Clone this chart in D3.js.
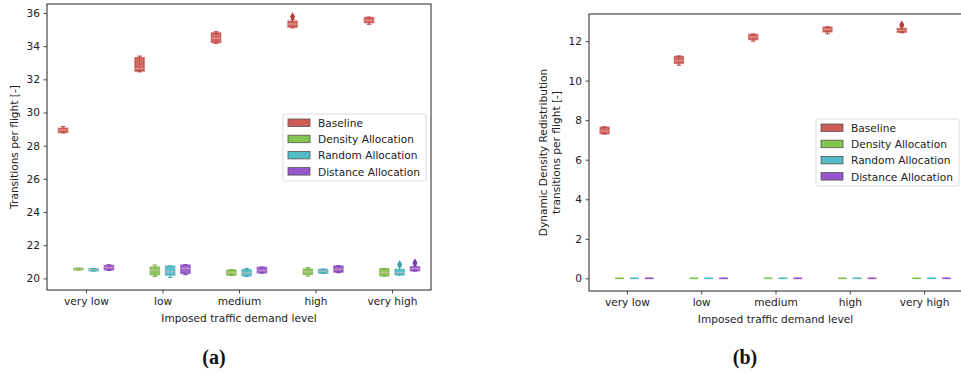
<!DOCTYPE html>
<html>
<head>
<meta charset="utf-8">
<script src="https://cdn.jsdelivr.net/npm/d3@7"></script>
<style>
  body { margin: 0; background: #fff; }
  svg { display: block; }
  text { font-family: "DejaVu Sans", sans-serif; fill: #222; }
  .caption { font-family: "Liberation Serif", serif; font-weight: bold; font-size: 20px; fill: #111; }
</style>
</head>
<body>
<svg id="chart" width="961" height="373"></svg>
<script>
const levels = ["very low", "low", "medium", "high", "very high"];
const series = ["Baseline", "Density Allocation", "Random Allocation", "Distance Allocation"];
const colors = ["#cd5c57", "#86c452", "#52bcc6", "#9656cc"];
const edgeColors = ["#b83a35", "#6aaa36", "#36a4ae", "#7a38b4"];

// [whisker low, q1, median, q3, whisker high] per level
const baselineA = [[28.77, 28.8, 28.95, 29.05, 29.15], [32.45, 32.5, 32.65, 33.3, 33.4], [34.17, 34.22, 34.47, 34.8, 34.87], [35.1, 35.15, 35.33, 35.5, 35.6], [35.32, 35.42, 35.54, 35.72, 35.75]];
const densityA = [[20.5, 20.52, 20.56, 20.6, 20.62], [20.12, 20.22, 20.5, 20.68, 20.8], [20.18, 20.2, 20.34, 20.5, 20.52], [20.14, 20.24, 20.4, 20.56, 20.64], [20.14, 20.16, 20.36, 20.58, 20.6]];
const randomA = [[20.44, 20.46, 20.52, 20.58, 20.6], [20.06, 20.2, 20.4, 20.73, 20.75], [20.12, 20.16, 20.34, 20.52, 20.6], [20.3, 20.32, 20.44, 20.54, 20.56], [20.2, 20.22, 20.36, 20.54, 20.7]];
const distanceA = [[20.48, 20.52, 20.65, 20.78, 20.82], [20.22, 20.3, 20.6, 20.8, 20.82], [20.32, 20.34, 20.48, 20.66, 20.68], [20.34, 20.38, 20.54, 20.74, 20.76], [20.44, 20.46, 20.6, 20.7, 20.8]];
// fliers: [series index, level index, value]
const fliersA = [[0, 3, 35.78], [2, 4, 20.85], [3, 4, 20.95]];

const baselineB = [[7.3, 7.32, 7.45, 7.64, 7.66], [10.78, 10.88, 11.0, 11.22, 11.25], [12.0, 12.08, 12.2, 12.33, 12.36], [12.37, 12.47, 12.6, 12.7, 12.72], [12.42, 12.45, 12.54, 12.64, 12.75]];
const densityB = [[0, 0, 0, 0, 0], [0, 0, 0, 0, 0], [0, 0, 0, 0, 0], [0, 0, 0, 0, 0], [0, 0, 0, 0, 0]];
const randomB = [[0, 0, 0, 0, 0], [0, 0, 0, 0, 0], [0, 0, 0, 0, 0], [0, 0, 0, 0, 0], [0, 0, 0, 0, 0]];
const distanceB = [[0, 0, 0, 0, 0], [0, 0, 0, 0, 0], [0, 0, 0, 0, 0], [0, 0, 0, 0, 0], [0, 0, 0, 0, 0]];
const fliersB = [[0, 4, 12.82]];

const ticksA = [20, 22, 24, 26, 28, 30, 32, 34, 36];
const ticksB = [0, 2, 4, 6, 8, 10, 12];

const offsets = [-0.3, -0.1, 0.1, 0.3];
const boxW = 0.12;
const fs = 10.6;

const svg = d3.select("#chart");

function panel(cfg) {
  const x = d3.scaleLinear().domain([-0.51, 4.51]).range([cfg.left, cfg.right]);
  const y = d3.scaleLinear().domain(cfg.ydom).range([cfg.bottom, cfg.top]);
  const g = svg.append("g");

  // axes
  g.append("g")
    .attr("transform", `translate(0,${cfg.bottom})`)
    .call(d3.axisBottom(x).tickValues(d3.range(levels.length)).tickFormat(i => levels[i]).tickSizeOuter(0).tickSize(3.5).tickPadding(3.5))
    .call(a => a.select(".domain").remove())
    .selectAll("text").attr("font-size", fs).attr("font-family", "DejaVu Sans");
  g.append("g")
    .attr("transform", `translate(${cfg.left},0)`)
    .call(d3.axisLeft(y).tickValues(cfg.ticks).tickSizeOuter(0).tickSize(3.5).tickPadding(3.5))
    .call(a => a.select(".domain").remove())
    .selectAll("text").attr("font-size", fs).attr("font-family", "DejaVu Sans");
  g.selectAll(".tick line").attr("stroke", "#222").attr("stroke-width", 0.8);

  const data = [];
  cfg.sets.forEach((set, s) => set.forEach((st, i) => data.push({ s, i, st })));

  const box = g.selectAll("g.box").data(data).enter().append("g").attr("class", "box");
  const cx = d => x(d.i + offsets[d.s]);
  // whiskers
  box.append("line")
    .attr("x1", cx).attr("x2", cx)
    .attr("y1", d => y(d.st[0])).attr("y2", d => y(d.st[4]))
    .attr("stroke", d => edgeColors[d.s]).attr("stroke-width", 1);
  box.selectAll("line.cap").data(d => [d, d].map((v, k) => ({ ...v, k }))).enter()
    .append("line").attr("class", "cap")
    .attr("x1", d => x(d.i + offsets[d.s] - boxW / 4)).attr("x2", d => x(d.i + offsets[d.s] + boxW / 4))
    .attr("y1", d => y(d.st[d.k ? 4 : 0])).attr("y2", d => y(d.st[d.k ? 4 : 0]))
    .attr("stroke", d => edgeColors[d.s]).attr("stroke-width", 1);
  // boxes
  box.append("rect")
    .attr("x", d => x(d.i + offsets[d.s] - boxW / 2))
    .attr("width", x(boxW) - x(0))
    .attr("y", d => y(d.st[3]))
    .attr("height", d => Math.max(0, y(d.st[1]) - y(d.st[3])))
    .attr("fill", d => colors[d.s]).attr("fill-opacity", 0.9)
    .attr("stroke", d => edgeColors[d.s]).attr("stroke-opacity", 0.6).attr("stroke-width", 1.5);
  // medians
  box.append("line")
    .attr("x1", d => x(d.i + offsets[d.s] - boxW / 2)).attr("x2", d => x(d.i + offsets[d.s] + boxW / 2))
    .attr("y1", d => y(d.st[2])).attr("y2", d => y(d.st[2]))
    .attr("stroke", d => d.st[3] > d.st[1] ? "#f0b8b0" : colors[d.s])
    .attr("stroke-opacity", d => d.st[3] > d.st[1] ? 0.6 : 1)
    .attr("stroke-width", d => d.st[3] > d.st[1] ? 1 : 1.6);

  // fliers
  g.selectAll("path.flier").data(cfg.fliers).enter().append("path")
    .attr("class", "flier")
    .attr("transform", d => `translate(${x(d[1] + offsets[d[0]])},${y(d[2])})`)
    .attr("d", d3.symbol(d3.symbolDiamond, 22))
    .attr("fill", d => edgeColors[d[0]]);

  // frame
  g.append("rect")
    .attr("x", cfg.left).attr("y", cfg.top)
    .attr("width", cfg.right - cfg.left).attr("height", cfg.bottom - cfg.top)
    .attr("fill", "none").attr("stroke", "#222").attr("stroke-width", 1);

  // labels
  g.append("text")
    .attr("x", (x(0) + x(4)) / 2).attr("y", cfg.bottom + 32)
    .attr("text-anchor", "middle").attr("font-size", fs)
    .text("Imposed traffic demand level");
  const yl = g.append("text")
    .attr("transform", `translate(${cfg.ylabX},${(cfg.top + cfg.bottom) / 2}) rotate(-90)`)
    .attr("text-anchor", "middle").attr("font-size", fs);
  cfg.ylabel.forEach((t, k) => yl.append("tspan").attr("x", 0).attr("dy", k ? 12.5 : 0).text(t));

  // legend
  const lg = g.append("g").attr("transform", `translate(${cfg.legX},${cfg.legY})`);
  lg.append("rect").attr("width", 143).attr("height", 67).attr("rx", 2)
    .attr("fill", "#fff").attr("fill-opacity", 0.8).attr("stroke", "#ddd");
  series.forEach((name, k) => {
    lg.append("rect").attr("x", 5).attr("y", 5 + k * 16.2).attr("width", 22).attr("height", 7.5)
      .attr("fill", colors[k]).attr("stroke", "#555").attr("stroke-width", 0.8);
    lg.append("text").attr("x", 35).attr("y", 13 + k * 16.2).attr("font-size", fs).text(name);
  });

  svg.append("text").attr("class", "caption")
    .attr("x", cfg.capX).attr("y", 364).attr("text-anchor", "middle").text(cfg.caption);
}

panel({
  left: 47, right: 431, top: 4, bottom: 290,
  ydom: [19.3, 36.54], ticks: ticksA,
  sets: [baselineA, densityA, randomA, distanceA], fliers: fliersA,
  ylabel: ["Transitions per flight [-]"], ylabX: 18,
  legX: 283, legY: 114, capX: 214, caption: "(a)"
});

panel({
  left: 589, right: 962, top: 14, bottom: 291,
  ydom: [-0.64, 13.37], ticks: ticksB,
  sets: [baselineB, densityB, randomB, distanceB], fliers: fliersB,
  ylabel: ["Dynamic Density Redistribution", "transitions per flight [-]"], ylabX: 547,
  legX: 816, legY: 119, capX: 745, caption: "(b)"
});
</script>
</body>
</html>
